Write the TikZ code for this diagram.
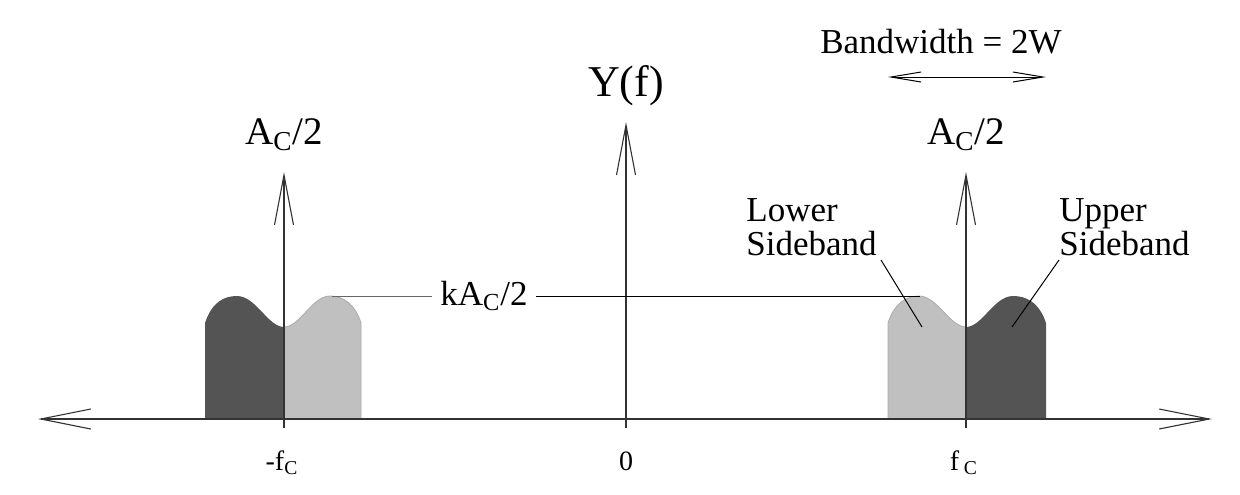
\documentclass[tikz,border=0pt]{standalone}
\usepackage{fontspec}
\setmainfont{Liberation Serif}
\usepackage{tikz}
\usetikzlibrary{arrows.meta,positioning,calc}
\definecolor{sbdark}{RGB}{84,84,84}
\definecolor{sblight}{RGB}{192,192,192}
\definecolor{sbedge}{RGB}{170,170,170}
\newcommand{\sub}[1]{\textsubscript{#1}}

\begin{document}
\begin{tikzpicture}[
  x=0.5pt,y=-0.5pt,
  every node/.style={inner sep=0pt},
  ax/.style={line width=0.55pt,black!80},
  axarrow/.style={ax,{Straight Barb[length=25pt,width=10pt]}-{Straight Barb[length=25pt,width=10pt]}},
  imp/.style={ax,-{Straight Barb[length=25pt,width=9.5pt]}},
  bwarrow/.style={line width=0.5pt,{Straight Barb[length=15pt,width=5pt]}-{Straight Barb[length=15pt,width=5pt]}},
  lbl/.style={font=\fontsize{17.5pt}{17.5pt}\selectfont,anchor=base},
  axlbl/.style={font=\fontsize{14pt}{14pt}\selectfont,anchor=base},
  side/.style={font=\fontsize{17.5pt}{17pt}\selectfont,align=left,anchor=base west},
  ptr/.style={line width=0.5pt},
  ]

  \useasboundingbox (0,0) rectangle (1240,494);

  %─── Sidebands at -f_C ──────────────────────────────────────────────────────
  \fill[sbdark]
    (205,419) -- (205,323) .. controls (212,302) and (224,296) .. (237,296)
    .. controls (256,296) and (268,327) .. (284,327) -- (284,419) -- cycle;
  \filldraw[fill=sblight,draw=sbedge,line width=0.4pt]
    (284,419) -- (284,327) .. controls (300,327) and (312,296) .. (330,296)
    .. controls (343,296) and (355,304) .. (361,323) -- (361,419) -- cycle;

  %─── Sidebands at f_C ───────────────────────────────────────────────────────
  \filldraw[fill=sblight,draw=sbedge,line width=0.4pt]
    (888,419) -- (888,323) .. controls (894,304) and (906,296) .. (919,296)
    .. controls (937,296) and (950,327) .. (966,327) -- (966,419) -- cycle;
  \fill[sbdark]
    (966,419) -- (966,327) .. controls (982,327) and (994,296) .. (1013,296)
    .. controls (1026,296) and (1039,302) .. (1046,323) -- (1046,419) -- cycle;

  %─── Frequency axis ─────────────────────────────────────────────────────────
  \coordinate (fmin) at (38,419);
  \coordinate (fmax) at (1212,419);
  \draw[axarrow] (fmin) -- (fmax);

  %─── Y(f) axis and carriers ─────────────────────────────────────────────────
  \coordinate (zero) at (626,428);
  \coordinate (ytop) at (626,122);
  \coordinate (lcar) at (284,428);
  \coordinate (lcartop) at (284,172);
  \coordinate (rcar) at (966,428);
  \coordinate (rcartop) at (966,172);
  \draw[imp] (zero) -- (ytop);
  \draw[imp] (lcar) -- (lcartop);
  \draw[imp] (rcar) -- (rcartop);

  \node[lbl,font=\fontsize{22pt}{22pt}\selectfont] (ylab) at (626,96) {Y(f)};
  \node[lbl,font=\fontsize{19.5pt}{19.5pt}\selectfont] (lamp) at (284,144) {A\sub{C}/2};
  \node[lbl,font=\fontsize{19.5pt}{19.5pt}\selectfont] (ramp) at (966,144) {A\sub{C}/2};

  %─── Axis labels ────────────────────────────────────────────────────────────
  \node[axlbl] (lfc) at (282,470) {-f\sub{C}};
  \node[axlbl] (orig) at (626,470) {0};
  \node[axlbl] (rfc) at (964,470) {f\,\sub{C}};

  %─── Sideband level ─────────────────────────────────────────────────────────
  \coordinate (lpeak) at (332,296);
  \coordinate (rpeak) at (920,296);
  \node[lbl,fill=white,inner xsep=4pt,inner ysep=0pt] (klev) at (484,305) {kA\sub{C}/2};
  \draw[ptr,black!60] (lpeak) -- (klev.west |- lpeak);
  \draw[ptr] (klev.east |- rpeak) -- (rpeak);

  %─── Sideband labels ────────────────────────────────────────────────────────
  \node[side] (lsb) at (746,255) {Lower\\Sideband};
  \node[side] (usb) at (1059,255) {Upper\\Sideband};
  \coordinate (lsbpt) at (922,327);
  \coordinate (usbpt) at (1012,327);
  \draw[ptr] (881,260) -- (lsbpt);
  \draw[ptr] (1059,260) -- (usbpt);

  %─── Bandwidth ──────────────────────────────────────────────────────────────
  \node[lbl] (bw) at (941,53) {Bandwidth = 2W};
  \coordinate (bwl) at (888,77);
  \coordinate (bwr) at (1046,77);
  \draw[bwarrow] (bwl) -- (bwr);

\end{tikzpicture}
\end{document}
